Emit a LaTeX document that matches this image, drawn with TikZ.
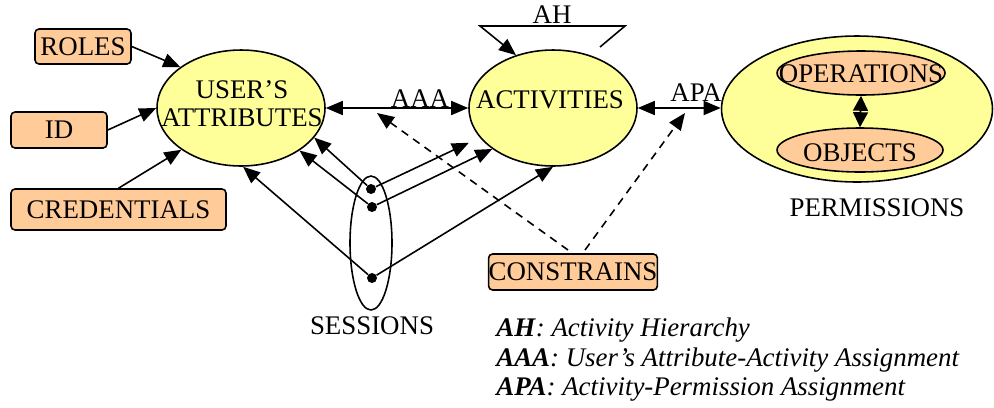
\documentclass[tikz,border=0pt]{standalone}
\usepackage{fontspec}
\setmainfont{Liberation Serif}
\usetikzlibrary{arrows.meta,shapes.geometric,calc}
\definecolor{yel}{HTML}{FFFF99}
\definecolor{peach}{HTML}{FFCC99}
\begin{document}
\begin{tikzpicture}[x=0.02cm,y=-0.02cm,
  every node/.style={font=\fontsize{15.3}{15.9}\selectfont},
  ell/.style={ellipse, draw, line width=0.9pt, inner sep=0pt},
  box/.style={rectangle, rounded corners=0.08cm, draw, line width=0.9pt, fill=peach, inner sep=0pt},
  tri/.style={-{Triangle[length=0.34cm,width=0.28cm]}, line width=0.9pt},
  dtri/.style={{Triangle[length=0.34cm,width=0.28cm]}-{Triangle[length=0.34cm,width=0.28cm]}, line width=0.9pt},
  dotn/.style={circle, fill, inner sep=0pt, minimum size=0.2cm},
  lbl/.style={inner sep=0pt},
  dsh/.style={dash pattern=on 4.5pt off 3.5pt}]
\useasboundingbox (0,0) rectangle (994,407);

% main ellipses
\node[ell, fill=yel, minimum width=3.36cm, minimum height=2.32cm] (ua) at (241,108) {};
\node[lbl, align=center] (uat) at (242,104) {USER’S\\ATTRIBUTES};
\node[ell, fill=yel, minimum width=3.36cm, minimum height=2.32cm] (act) at (553,108) {};
\node[lbl] (actt) at (550,100) {ACTIVITIES};
\node[ell, fill=yel, minimum width=5.42cm, minimum height=2.92cm] (perm) at (857,109) {};
\node[ell, fill=peach, minimum width=3.36cm, minimum height=0.88cm] (ops) at (861,73) {};
\node[lbl] (opst) at (861,73.5) {OPERATIONS};
\node[ell, fill=peach, minimum width=3.32cm, minimum height=0.88cm] (obj) at (860,150) {};
\node[lbl] (objt) at (860,153) {OBJECTS};
\node[lbl] (permt) at (877,208) {PERMISSIONS};

% boxes
\node[box, minimum width=1.92cm, minimum height=0.7cm] (roles) at (83,46.5) {ROLES};
\node[box, minimum width=1.92cm, minimum height=0.72cm] (id) at (59,130) {ID};
\node[box, minimum width=4.3cm, minimum height=0.82cm] (cred) at (118.5,209.5) {CREDENTIALS};
\node[box, minimum width=3.36cm, minimum height=0.72cm] (cons) at (573,272) {CONSTRAINS};

% sessions
\node[ell, minimum width=0.84cm, minimum height=2.68cm] (ses) at (371,243) {};
\node[lbl] (sest) at (372,326) {SESSIONS};
\node[dotn] (d1) at (371,189) {};
\node[dotn] (d2) at (372,207) {};
\node[dotn] (d3) at (372,278) {};

% labels
\node[lbl] (aaa) at (420,98.5) {AAA};
\node[lbl] (apa) at (696,93) {APA};
\node[lbl] (aht) at (552,15) {AH};

% legend
\node[lbl, anchor=base west] (lg1) at (496,336) {\textbf{\textit{AH}}\textit{: Activity Hierarchy}};
\node[lbl, anchor=base west] (lg2) at (496,366) {\textbf{\textit{AAA}}\textit{: User’s Attribute-Activity Assignment}};
\node[lbl, anchor=base west] (lg3) at (496,395) {\textbf{\textit{APA}}\textit{: Activity-Permission Assignment}};

% connectors
\draw[tri] (roles.east) -- (ua.146);
\draw[tri] (id.east) -- (ua.west);
\draw[tri] (cred.north) -- (ua.215);
\draw[dtri] (ua.east) -- (act.west);
\draw[dtri] (act.east) -- (act.east -| perm.west);
\draw[{Triangle[length=0.3cm,width=0.3cm]}-{Triangle[length=0.3cm,width=0.3cm]}, line width=0.9pt] (ops.south) -- (obj.north);

\draw[tri] (d1) -- (ua.338);
\draw[tri] (d2) -- (ua.324);
\draw[tri] (d3) -- (ua.272);
\draw[tri, shorten >=0.24cm] (d1) -- (act.202);
\draw[tri] (d2) -- (act.214);
\draw[tri] (d3) -- (act.270);

% AH loop
\coordinate (ah1) at (480,26);
\coordinate (ah2) at (625,26);
\coordinate (ah3) at (600,47);
\draw[tri] (ah3) -- (ah2) -- (ah1) -- (act.125);

% constraints
\coordinate (c1) at (568,250);
\coordinate (t1) at (377,113);
\coordinate (c2) at (585,250);
\coordinate (t2) at (685,113);
\draw[tri, dsh] (c1) -- (t1);
\draw[tri, dsh] (c2) -- (t2);
\end{tikzpicture}
\end{document}
